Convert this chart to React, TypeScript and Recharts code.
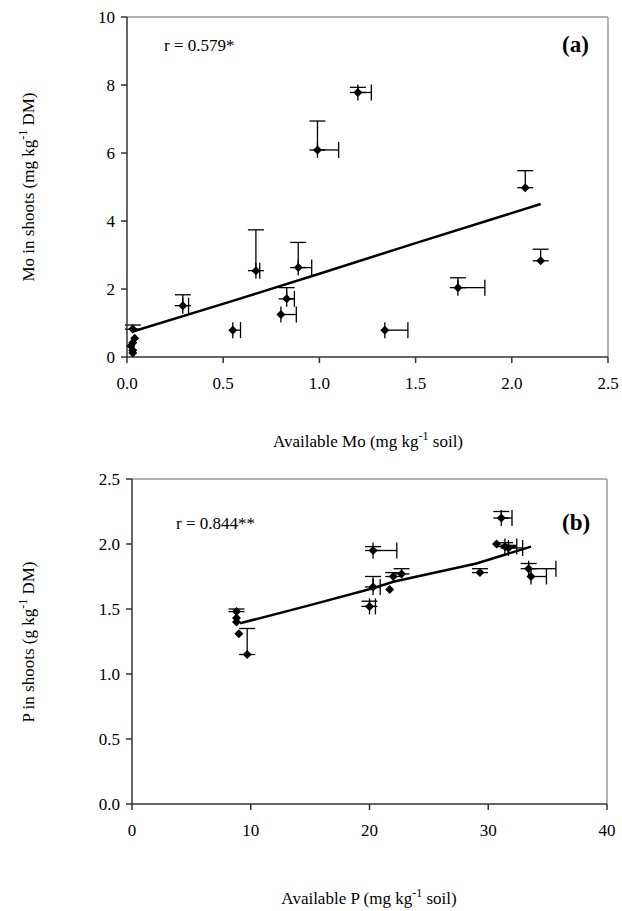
import { ScatterChart, Scatter, XAxis, YAxis, ErrorBar, ReferenceLine } from 'recharts'

// panel (a): available Mo vs Mo in shoots
const moSoil = [0.03, 0.04, 0.03, 0.02, 0.03, 0.03, 0.29, 0.55, 0.67, 0.8, 0.83, 0.89, 0.99, 1.2, 1.34, 1.72, 2.07, 2.15]
const moShoot = [0.82, 0.55, 0.42, 0.32, 0.2, 0.12, 1.51, 0.79, 2.54, 1.25, 1.71, 2.63, 6.09, 7.78, 0.79, 2.04, 4.98, 2.83]
const moErrX = [0, 0, 0, 0, 0, 0, 0.03, 0.04, 0.02, 0.08, 0.04, 0.07, 0.11, 0.07, 0.12, 0.14, 0, 0]
const moErrY = [0.12, 0, 0, 0, 0, 0, 0.32, 0, 1.2, 0, 0.33, 0.74, 0.85, 0.15, 0, 0.29, 0.5, 0.34]
const moTrendX = [0.03, 0.55, 1.0, 1.5, 2.15]
const moTrendY = [0.75, 1.65, 2.45, 3.35, 4.5]
const moXTicks = [0, 0.5, 1.0, 1.5, 2.0, 2.5]
const moYTicks = [0, 2, 4, 6, 8, 10]

// panel (b): available P vs P in shoots
const pSoil = [8.8, 8.8, 8.8, 9.0, 9.7, 20.0, 20.3, 20.3, 21.7, 22.0, 22.7, 29.3, 30.7, 31.1, 31.4, 31.7, 33.4, 33.6]
const pShoot = [1.48, 1.43, 1.4, 1.31, 1.15, 1.52, 1.67, 1.95, 1.65, 1.75, 1.77, 1.78, 2.0, 2.2, 1.98, 1.97, 1.81, 1.75]
const pErrX = [0, 0, 0, 0, 0, 0.5, 0.6, 2.0, 0, 0, 0, 0, 0, 0.9, 1.0, 1.2, 2.3, 1.3]
const pErrY = [0.02, 0, 0, 0, 0.2, 0.04, 0.08, 0.03, 0, 0.03, 0.04, 0.03, 0, 0.05, 0.03, 0.02, 0.04, 0]
const pTrendX = [9.1, 15, 20.3, 22, 29, 33.6]
const pTrendY = [1.39, 1.53, 1.66, 1.71, 1.85, 1.98]
const pXTicks = [0, 10, 20, 30, 40]
const pYTicks = [0, 0.5, 1.0, 1.5, 2.0, 2.5]

const font = '"Liberation Serif", serif'
const tick = { fill: '#000', fontSize: 17, fontFamily: font }
const axisLine = { stroke: '#333', strokeWidth: 1.5 }

const build = (xs: number[], ys: number[], ex: number[], ey: number[]) =>
  xs.map((x, i) => ({ x, y: ys[i], ex: [0, ex[i]], ey: [0, ey[i]], hx: ex[i] > 0, hy: ey[i] > 0 }))
const line = (xs: number[], ys: number[]) => xs.map((x, i) => ({ x, y: ys[i] }))

const Diamond = (p: any) => {
  const { cx, cy } = p
  return <path d={`M${cx},${cy - 4.5}L${cx + 4.5},${cy}L${cx},${cy + 4.5}L${cx - 4.5},${cy}Z`} fill="#000" />
}
const Nothing = () => null

function Panel(props: {
  top: number; height: number; mt: number; mb: number; ml: number; mr: number
  pts: any[]; trend: any[]; xTicks: number[]; yTicks: number[]
  xFmt: (v: number) => string; yFmt: (v: number) => string
}) {
  const { pts, trend, xTicks, yTicks } = props
  const xMax = xTicks[xTicks.length - 1]
  const yMax = yTicks[yTicks.length - 1]
  return (
    <div style={{ position: 'absolute', left: 0, top: props.top }}>
      <ScatterChart width={622} height={props.height}
        margin={{ top: props.mt, bottom: props.mb, left: props.ml, right: props.mr }}>
        <XAxis type="number" dataKey="x" domain={[0, xMax]} ticks={xTicks} tickFormatter={props.xFmt}
          tick={tick} axisLine={axisLine} tickLine={axisLine} tickSize={6} tickMargin={14} height={50} />
        <YAxis type="number" dataKey="y" domain={[0, yMax]} ticks={yTicks} tickFormatter={props.yFmt}
          tick={tick} axisLine={axisLine} tickLine={axisLine} tickSize={6} tickMargin={6} width={60} />
        <ReferenceLine y={yMax} stroke="#999" strokeWidth={1.5} />
        <ReferenceLine x={xMax} stroke="#999" strokeWidth={1.5} />
        <Scatter data={pts.filter((d) => d.hx)} shape={Nothing} isAnimationActive={false}>
          <ErrorBar dataKey="ex" direction="x" width={8} stroke="#000" strokeWidth={1.3} isAnimationActive={false} />
        </Scatter>
        <Scatter data={pts.filter((d) => d.hy)} shape={Nothing} isAnimationActive={false}>
          <ErrorBar dataKey="ey" direction="y" width={8} stroke="#000" strokeWidth={1.3} isAnimationActive={false} />
        </Scatter>
        <Scatter data={pts} shape={Diamond} isAnimationActive={false} />
        <Scatter data={trend} line={{ stroke: '#000', strokeWidth: 2.5 }} shape={Nothing} isAnimationActive={false} />
      </ScatterChart>
    </div>
  )
}

const txt = (x: number, y: number, extra: any = {}) => ({
  position: 'absolute' as const, left: x, top: y, fontFamily: font, fontSize: 17, whiteSpace: 'nowrap' as const, lineHeight: 1, ...extra,
})
const sup = { fontSize: 12 }

export default function App() {
  return (
    <div style={{ position: 'absolute', left: 0, top: 0, width: 622, height: 911, background: '#fff' }}>
      <Panel top={0} height={460} mt={17} mb={53} ml={67} mr={14}
        pts={build(moSoil, moShoot, moErrX, moErrY)} trend={line(moTrendX, moTrendY)}
        xTicks={moXTicks} yTicks={moYTicks} xFmt={(v) => v.toFixed(1)} yFmt={(v) => String(v)} />
      <Panel top={460} height={451} mt={19} mb={57} ml={72} mr={15}
        pts={build(pSoil, pShoot, pErrX, pErrY)} trend={line(pTrendX, pTrendY)}
        xTicks={pXTicks} yTicks={pYTicks} xFmt={(v) => String(v)} yFmt={(v) => v.toFixed(1)} />

      <div style={txt(164, 37)}>r = 0.579*</div>
      <div style={txt(562, 33, { fontSize: 23, fontWeight: 'bold' })}>(a)</div>
      <div style={txt(176, 515)}>r = 0.844**</div>
      <div style={txt(562, 511, { fontSize: 23, fontWeight: 'bold' })}>(b)</div>

      <div style={txt(368, 430, { transform: 'translateX(-50%)' })}>Available Mo (mg kg<sup style={sup}>-1</sup> soil)</div>
      <div style={txt(369, 887, { transform: 'translateX(-50%)' })}>Available P (mg kg<sup style={sup}>-1</sup> soil)</div>
      <div style={txt(27, 187, { transform: 'translate(-50%, -50%) rotate(-90deg)' })}>Mo in shoots (mg kg<sup style={sup}>-1</sup> DM)</div>
      <div style={txt(27, 642, { transform: 'translate(-50%, -50%) rotate(-90deg)' })}>P in shoots (g kg<sup style={sup}>-1</sup> DM)</div>
    </div>
  )
}
